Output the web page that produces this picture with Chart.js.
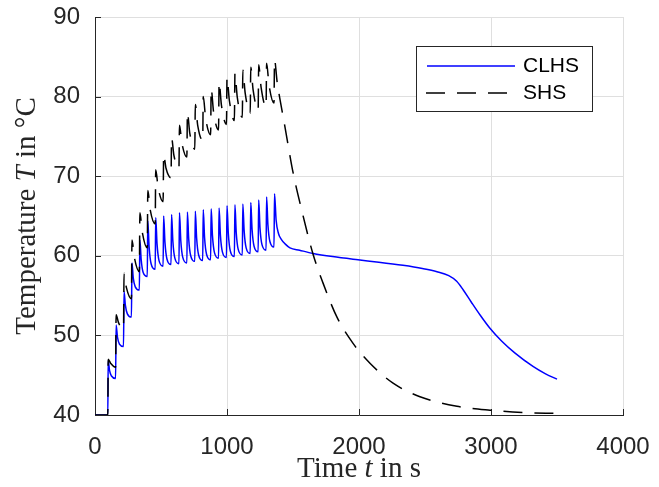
<!DOCTYPE html>
<html>
<head>
<meta charset="utf-8">
<script src="https://cdn.jsdelivr.net/npm/chart.js@4"></script>
<style>
  html, body { margin: 0; padding: 0; background: #fff; }
  canvas { display: block; }
</style>
</head>
<body>
<canvas id="myChart" width="659" height="487"></canvas>
<script>
'use strict';

// x ticks / y ticks
var timeTicks = [0, 1000, 2000, 3000, 4000];
var tempTicks = [40, 50, 60, 70, 80, 90];

var seriesNames = ['CLHS', 'SHS'];

// CLHS (blue, solid)
var clhsTime = [0, 97,
  100, 110, 125, 156,
  160, 170, 185, 216,
  220, 230, 245, 276,
  280, 290, 305, 336,
  340, 350, 365, 396,
  400, 410, 425, 456,
  460, 470, 485, 516,
  520, 530, 545, 576,
  580, 590, 605, 636,
  640, 650, 665, 696,
  700, 710, 725, 756,
  760, 770, 785, 816,
  820, 830, 845, 876,
  880, 890, 905, 936,
  940, 950, 965, 996,
  1000, 1010, 1025, 1056,
  1060, 1070, 1085, 1116,
  1120, 1130, 1145, 1176,
  1180, 1190, 1205, 1236,
  1240, 1250, 1265, 1296,
  1300, 1310, 1325, 1356,
  1360, 1372, 1390, 1410, 1440, 1477, 1550, 1652, 1800, 1992, 2150, 2333, 2480,
  2591, 2680, 2740, 2790, 2850, 2920, 2992, 3080, 3180, 3318, 3410, 3500];
var clhsTemp = [40, 40,
  46.9, 45.6, 44.9, 44.6,
  51.3, 49.8, 48.9, 48.6,
  55.5, 53.8, 52.7, 52.3,
  59.1, 57.2, 56.1, 55.7,
  62.0, 59.5, 57.9, 57.4,
  64.4, 61.1, 59.0, 58.3,
  64.8, 61.5, 59.4, 58.7,
  65.0, 61.7, 59.6, 58.9,
  65.2, 61.8, 59.7, 59.0,
  65.4, 61.9, 59.8, 59.1,
  65.5, 62.1, 60.0, 59.3,
  65.6, 62.2, 60.1, 59.4,
  65.8, 62.3, 60.2, 59.5,
  65.9, 62.5, 60.4, 59.7,
  66.0, 62.6, 60.5, 59.8,
  66.3, 62.8, 60.6, 59.9,
  66.4, 62.9, 60.8, 60.1,
  66.5, 63.1, 61.0, 60.3,
  66.7, 63.3, 61.2, 60.5,
  67.0, 63.5, 61.4, 60.7,
  67.4, 63.9, 61.8, 61.1,
  67.8, 64.5, 62.8, 62.1, 61.5, 61.0, 60.7, 60.3, 59.9, 59.5, 59.2, 58.8, 58.4,
  58.0, 57.5, 56.8, 55.7, 54.2, 52.5, 50.9, 49.3, 47.8, 46.1, 45.2, 44.5];

// SHS (black, dashed)
var shsTime = [0, 97,
  100, 118, 156,
  160, 178, 216,
  220, 238, 276,
  280, 298, 336,
  340, 358, 396,
  400, 418, 456,
  460, 478, 516,
  520, 538, 576,
  580, 598, 636,
  640, 658, 696,
  700, 718, 756,
  760, 778, 816,
  820, 838, 876,
  880, 898, 936,
  940, 958, 996,
  1000, 1018, 1056,
  1060, 1078, 1116,
  1120, 1138, 1176,
  1180, 1198, 1236,
  1240, 1258, 1296,
  1300, 1318, 1356,
  1360, 1380, 1402, 1439, 1500, 1568, 1652, 1727, 1833, 1955, 2083, 2258, 2462,
  2742, 2992, 3250, 3500];
var shsTemp = [40, 40,
  47.0, 46.5, 46.0,
  52.6, 51.6, 50.8,
  57.8, 56.0, 54.6,
  62.0, 59.8, 58.0,
  65.4, 63.0, 61.0,
  68.2, 65.8, 64.0,
  70.8, 68.6, 66.8,
  72.7, 71.0, 69.8,
  74.8, 72.6, 71.0,
  76.4, 74.2, 72.4,
  78.0, 75.4, 73.4,
  79.0, 76.4, 74.5,
  80.0, 77.3, 75.2,
  81.0, 78.1, 75.8,
  81.8, 78.9, 76.5,
  82.4, 79.5, 77.0,
  82.9, 79.9, 77.4,
  83.3, 80.4, 77.9,
  83.7, 80.8, 78.3,
  84.0, 81.2, 78.7,
  84.2, 81.5, 79.2,
  84.6, 81.8, 79.6, 76.2, 70.5, 65.6, 60.2, 56.6, 52.3, 49.0, 46.5, 44.0, 42.3,
  41.1, 40.6, 40.3, 40.2];

var axisColor = '#262626';
var gridColor = '#dfdfdf';
var sans = '"Liberation Sans", Arial, sans-serif';
var serif = '"Liberation Serif", "Times New Roman", serif';
var shsDash = [19, 12];

function toPoints(ts, vs) {
  var pts = [];
  for (var i = 0; i < ts.length; i++) pts.push({x: ts[i], y: vs[i]});
  return pts;
}

// label made of [text, italic] parts, centred on (cx, cy)
function drawMixed(ctx, parts, cx, cy, size) {
  var total = 0;
  parts.forEach(function (p) {
    ctx.font = (p[1] ? 'italic ' : '') + size + 'px ' + serif;
    total += ctx.measureText(p[0]).width;
  });
  var x = cx - total / 2;
  ctx.textAlign = 'left';
  ctx.textBaseline = 'middle';
  parts.forEach(function (p) {
    ctx.font = (p[1] ? 'italic ' : '') + size + 'px ' + serif;
    ctx.fillText(p[0], x, cy);
    x += ctx.measureText(p[0]).width;
  });
}

var matlabBits = {
  id: 'matlabBits',
  beforeDatasetsDraw: function (chart) {
    var ctx = chart.ctx, a = chart.chartArea;
    var xs = chart.scales.x, ys = chart.scales.y;
    ctx.save();
    ctx.strokeStyle = axisColor;
    ctx.lineWidth = 1;
    ctx.beginPath();
    timeTicks.forEach(function (t) {
      var px = Math.round(xs.getPixelForValue(t)) + 0.5;
      ctx.moveTo(px, a.bottom);
      ctx.lineTo(px, a.bottom - 6);
    });
    tempTicks.forEach(function (v) {
      var py = Math.round(ys.getPixelForValue(v)) + 0.5;
      ctx.moveTo(a.left, py);
      ctx.lineTo(a.left + 6, py);
    });
    ctx.stroke();
    ctx.restore();
  },
  afterDraw: function (chart) {
    var ctx = chart.ctx, a = chart.chartArea;
    ctx.save();
    ctx.fillStyle = axisColor;
    drawMixed(ctx, [['Time ', false], ['t', true], [' in s', false]],
      (a.left + a.right) / 2, 469, 29);
    ctx.translate(27, (a.top + a.bottom) / 2);
    ctx.rotate(-Math.PI / 2);
    drawMixed(ctx, [['Temperature ', false], ['T', true], [' in \u00B0C', false]], 0, 0, 29);
    ctx.restore();

    // legend box
    ctx.save();
    ctx.fillStyle = '#fff';
    ctx.fillRect(416.5, 46.5, 176, 65);
    ctx.strokeStyle = axisColor;
    ctx.lineWidth = 1;
    ctx.strokeRect(416.5, 46.5, 176, 65);
    ctx.lineWidth = 1.5;
    ctx.strokeStyle = '#0000ff';
    ctx.beginPath(); ctx.moveTo(427, 66); ctx.lineTo(515, 66); ctx.stroke();
    ctx.strokeStyle = '#000';
    ctx.setLineDash(shsDash);
    ctx.beginPath(); ctx.moveTo(426, 93); ctx.lineTo(515, 93); ctx.stroke();
    ctx.setLineDash([]);
    ctx.fillStyle = '#000';
    ctx.font = '21px ' + sans;
    ctx.textAlign = 'left';
    ctx.textBaseline = 'middle';
    ctx.fillText(seriesNames[0], 523, 66);
    ctx.fillText(seriesNames[1], 523, 93);
    ctx.restore();
  }
};

var ctx = document.getElementById('myChart').getContext('2d');
window.myLine = new Chart(ctx, {
  type: 'line',
  data: {
    datasets: [{
      label: seriesNames[0],
      data: toPoints(clhsTime, clhsTemp),
      borderColor: '#0000ff',
      borderWidth: 1.5,
      pointRadius: 0,
      cubicInterpolationMode: 'monotone',
      order: 2
    }, {
      label: seriesNames[1],
      data: toPoints(shsTime, shsTemp),
      borderColor: '#000000',
      borderWidth: 1.5,
      borderDash: shsDash,
      pointRadius: 0,
      cubicInterpolationMode: 'monotone',
      order: 1
    }]
  },
  options: {
    responsive: false,
    animation: false,
    devicePixelRatio: 1,
    layout: { padding: { left: 0, right: 36, top: 17, bottom: 0 } },
    plugins: { legend: { display: false }, tooltip: { enabled: false } },
    scales: {
      x: {
        type: 'linear', min: 0, max: 4000,
        afterFit: function (s) {
          s.height = 72;
          s.paddingLeft = 0; s.paddingRight = 0;
        },
        afterBuildTicks: function (s) { s.ticks = timeTicks.map(function (v) { return {value: v}; }); },
        ticks: {
          color: axisColor, font: { family: sans, size: 24 }, padding: 18, maxRotation: 0,
          callback: function (v) { return String(v); }
        },
        grid: { color: gridColor, drawTicks: false },
        border: { display: true, color: axisColor, width: 1 }
      },
      y: {
        min: 40, max: 90,
        afterFit: function (s) {
          s.width = 95;
          s.paddingTop = 0; s.paddingBottom = 0;
        },
        afterBuildTicks: function (s) { s.ticks = tempTicks.map(function (v) { return {value: v}; }); },
        ticks: {
          color: axisColor, font: { family: sans, size: 24 }, padding: 15,
          callback: function (v) { return String(v); }
        },
        grid: { color: gridColor, drawTicks: false },
        border: { display: true, color: axisColor, width: 1 }
      }
    }
  },
  plugins: [matlabBits]
});
</script>
</body>
</html>
